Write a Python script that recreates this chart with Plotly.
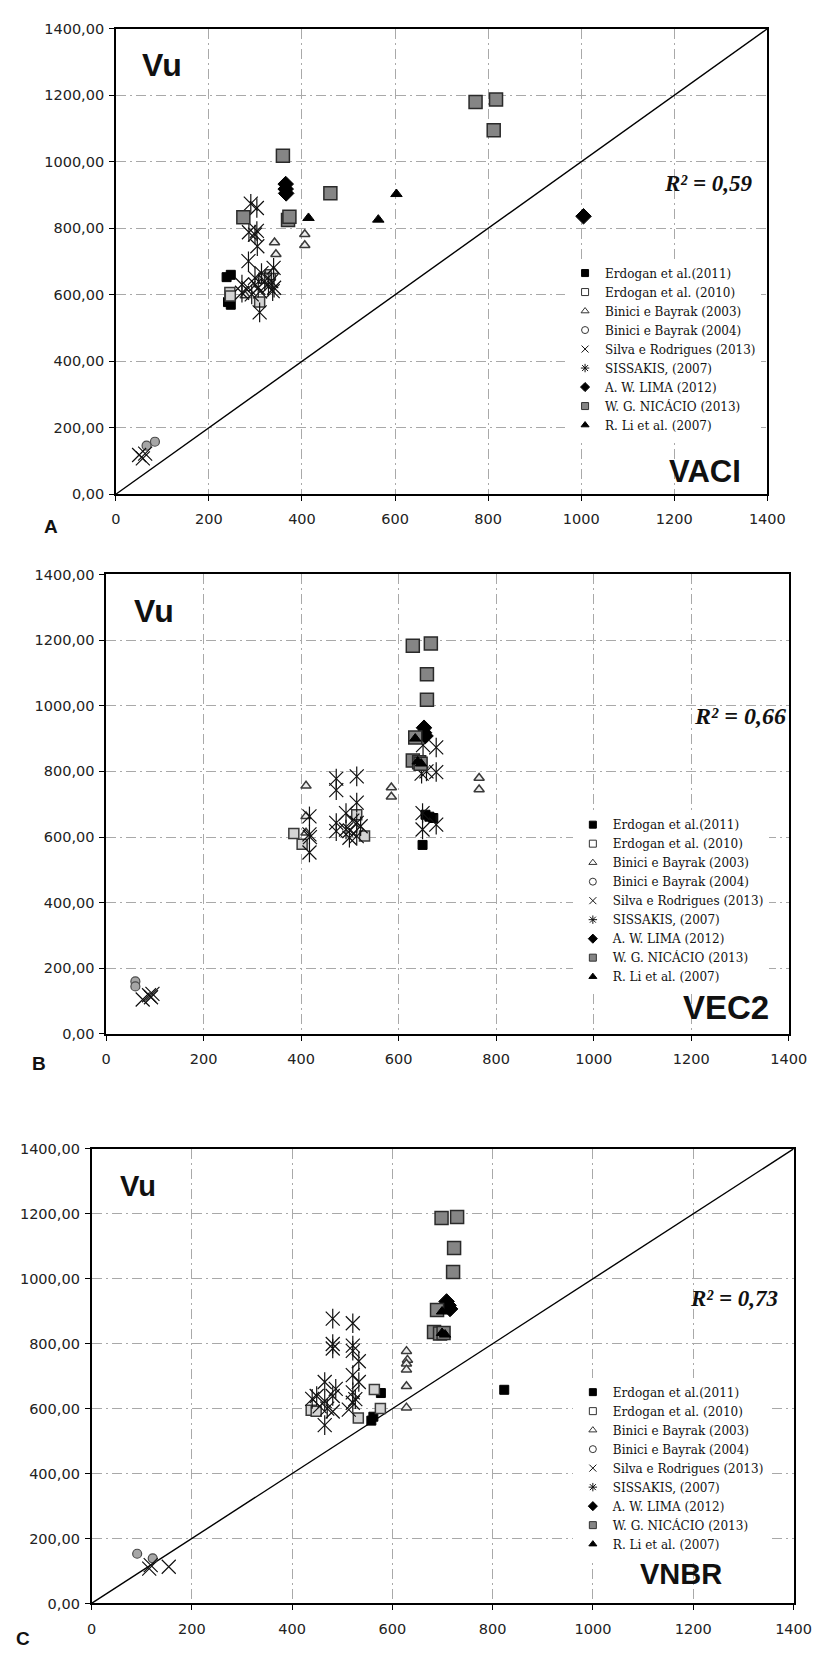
import plotly.graph_objects as go

W, H = 832, 1655

# ---------------- shared labels ----------------
series_names = [
    "Erdogan et al.(2011)", "Erdogan et al. (2010)", "Binici e Bayrak (2003)",
    "Binici e Bayrak (2004)", "Silva e Rodrigues (2013)", "SISSAKIS, (2007)",
    "A. W. LIMA (2012)", "W. G. NICÁCIO (2013)", "R. Li et al. (2007)",
]
axis_ticks = [0, 200, 400, 600, 800, 1000, 1200, 1400]
x_tick_labels = ["0", "200", "400", "600", "800", "1000", "1200", "1400"]
y_tick_labels = ["0,00", "200,00", "400,00", "600,00", "800,00", "1000,00", "1200,00", "1400,00"]
panel_codes = ["VACI", "VEC2", "VNBR"]
panel_letters = ["A", "B", "C"]
r2_values = ["0,59", "0,66", "0,73"]
diag_x = [0, 1400]
diag_y = [0, 1400]

# ---------------- Panel A : VACI ----------------
vaci_erd11_x = [238, 247, 241, 247]
vaci_erd11_y = [653, 660, 578, 570]
vaci_erd10_x = [245, 246, 309, 332, 318]
vaci_erd10_y = [607, 596, 578, 660, 650]
vaci_bin03_x = [341, 344, 406, 406, 339, 278]
vaci_bin03_y = [757, 722, 782, 749, 671, 598]
vaci_bin04_x = [84, 66]
vaci_bin04_y = [158, 146]
vaci_silva_x = [50, 58, 63, 300, 310, 285]
vaci_silva_y = [118, 108, 122, 630, 610, 620]
vaci_siss_x = [290, 303, 286, 299, 303, 304, 285, 271, 299, 306, 309, 320, 334, 339, 340, 337, 292, 271, 313, 328]
vaci_siss_y = [874, 861, 788, 781, 792, 746, 701, 631, 651, 621, 547, 641, 641, 681, 621, 611, 601, 606, 665, 625]
vaci_lima_x = [365, 365, 366, 1005]
vaci_lima_y = [933, 918, 905, 836]
vaci_nica_x = [359, 274, 461, 370, 373, 773, 817, 812]
vaci_nica_y = [1018, 833, 905, 825, 835, 1180, 1187, 1095]
vaci_rli_x = [414, 564, 603]
vaci_rli_y = [831, 826, 903]

# ---------------- Panel B : VEC2 ----------------
vec2_erd11_x = [655, 671, 649, 663]
vec2_erd11_y = [668, 658, 576, 662]
vec2_erd10_x = [385, 402, 514, 530]
vec2_erd10_y = [611, 578, 668, 603]
vec2_bin03_x = [410, 410, 410, 585, 585, 765, 765]
vec2_bin03_y = [756, 663, 613, 751, 723, 780, 745]
vec2_bin04_x = [60, 60]
vec2_bin04_y = [160, 145]
vec2_silva_x = [75, 88, 95, 92, 505, 418, 500]
vec2_silva_y = [105, 118, 122, 112, 650, 600, 620]
vec2_siss_x = [472, 472, 514, 514, 492, 472, 472, 492, 499, 514, 522, 417, 417, 417, 514, 677, 677, 647, 649, 649, 677, 650, 657]
vec2_siss_y = [778, 743, 785, 705, 673, 643, 618, 623, 598, 603, 633, 663, 608, 553, 643, 873, 798, 793, 673, 623, 638, 880, 800]
vec2_lima_x = [652, 652, 655]
vec2_lima_y = [933, 918, 908]
vec2_nica_x = [629, 666, 658, 658, 634, 629, 642, 645]
vec2_nica_y = [1183, 1190, 1096, 1018, 903, 833, 828, 823]
vec2_rli_x = [634, 639, 646]
vec2_rli_y = [900, 830, 824]

# ---------------- Panel C : VNBR ----------------
vnbr_erd11_x = [558, 562, 577, 823]
vnbr_erd11_y = [563, 575, 648, 658]
vnbr_erd10_x = [438, 448, 564, 576, 532]
vnbr_erd10_y = [595, 592, 659, 600, 571]
vnbr_bin03_x = [628, 630, 628, 628, 628, 628]
vnbr_bin03_y = [777, 750, 738, 720, 669, 603]
vnbr_bin04_x = [91, 122]
vnbr_bin04_y = [153, 139]
vnbr_silva_x = [115, 118, 154, 481, 455, 513]
vnbr_silva_y = [107, 118, 113, 591, 607, 597]
vnbr_siss_x = [481, 521, 481, 481, 521, 521, 533, 521, 465, 533, 487, 449, 465, 481, 521, 526, 521, 465, 440, 470]
vnbr_siss_y = [877, 863, 799, 785, 794, 778, 746, 703, 682, 682, 661, 639, 623, 639, 650, 629, 618, 549, 630, 600]
vnbr_lima_x = [708, 715, 712]
vnbr_lima_y = [930, 907, 918]
vnbr_nica_x = [698, 729, 723, 721, 689, 683, 695, 702]
vnbr_nica_y = [1187, 1190, 1095, 1021, 904, 836, 831, 833]
vnbr_rli_x = [699, 699, 705]
vnbr_rli_y = [899, 833, 828]

panels = [
    [(vaci_erd11_x, vaci_erd11_y), (vaci_erd10_x, vaci_erd10_y), (vaci_bin03_x, vaci_bin03_y),
     (vaci_bin04_x, vaci_bin04_y), (vaci_silva_x, vaci_silva_y), (vaci_siss_x, vaci_siss_y),
     (vaci_lima_x, vaci_lima_y), (vaci_nica_x, vaci_nica_y), (vaci_rli_x, vaci_rli_y)],
    [(vec2_erd11_x, vec2_erd11_y), (vec2_erd10_x, vec2_erd10_y), (vec2_bin03_x, vec2_bin03_y),
     (vec2_bin04_x, vec2_bin04_y), (vec2_silva_x, vec2_silva_y), (vec2_siss_x, vec2_siss_y),
     (vec2_lima_x, vec2_lima_y), (vec2_nica_x, vec2_nica_y), (vec2_rli_x, vec2_rli_y)],
    [(vnbr_erd11_x, vnbr_erd11_y), (vnbr_erd10_x, vnbr_erd10_y), (vnbr_bin03_x, vnbr_bin03_y),
     (vnbr_bin04_x, vnbr_bin04_y), (vnbr_silva_x, vnbr_silva_y), (vnbr_siss_x, vnbr_siss_y),
     (vnbr_lima_x, vnbr_lima_y), (vnbr_nica_x, vnbr_nica_y), (vnbr_rli_x, vnbr_rli_y)],
]
show_diag = [True, False, True]

# ---------------- styles ----------------
styles = [
    dict(symbol="square", size=9, color="#000000", line=dict(color="#000000", width=1)),
    dict(symbol="square", size=10, color="#d4d4d4", line=dict(color="#3a3a3a", width=1.5)),
    dict(symbol="triangle-up", size=9, color="#ececec", line=dict(color="#3a3a3a", width=1.5)),
    dict(symbol="circle", size=9, color="#a6a6a6", line=dict(color="#4a4a4a", width=1.2)),
    dict(symbol="x-thin-open", size=14, color="#111111", line=dict(color="#111111", width=1.2)),
    dict(symbol="x-thin-open", size=14, color="#111111", line=dict(color="#111111", width=1.2)),
    dict(symbol="diamond", size=12, color="#000000", line=dict(color="#000000", width=1)),
    dict(symbol="square", size=13, color="#858585", line=dict(color="#2a2a2a", width=1.5)),
    dict(symbol="triangle-up", size=10, color="#000000", line=dict(color="#000000", width=1)),
]
legend_marker = [
    dict(symbol="square", color="#000000", line="#000000"),
    dict(symbol="square", color="#ffffff", line="#333333"),
    dict(symbol="triangle-up", color="#ffffff", line="#333333"),
    dict(symbol="circle", color="#ffffff", line="#333333"),
    dict(symbol="x-thin-open", color="#111111", line="#111111"),
    dict(symbol="asterisk-open", color="#111111", line="#111111"),
    dict(symbol="diamond", color="#000000", line="#000000"),
    dict(symbol="square", color="#858585", line="#333333"),
    dict(symbol="triangle-up", color="#000000", line="#000000"),
]

# panel geometry in pixels: (x_left, x_right, y_top, y_bottom)
geom = [(114, 784, 21, 491), (104, 806, 572, 1036), (89, 811, 1152, 1611)]
legend_pos = [(576, 253, 12), (584, 810, 12), (584, 1383, 12)]
vu_pos = [(161, 58, 32), (153, 609, 32), (137, 1190, 29)]
code_pos = [(720, 468, 31), (741, 1009, 33), (695, 1581, 29)]
r2_pos = [(723, 177, 23), (756, 715, 24), (750, 1303, 23)]
letter_pos = [(47, 524), (35, 1066), (19, 1646)]


def px(x, y):
    return x / W, 1 - y / H


fig = go.Figure()
layout_updates = {}
annotations = []

for p in range(3):
    sfx = "" if p == 0 else str(p + 1)
    xa, ya = "x" + sfx, "y" + sfx
    leg = "legend" + sfx
    x0, x1, yt, yb = geom[p]
    grid_kw = dict(showgrid=True, gridcolor="#a9a9a9", gridwidth=1,
                   griddash="10px,4px,2px,4px", zeroline=False,
                   showline=True, linecolor="#000000", linewidth=1.5, mirror=True,
                   ticks="outside", ticklen=5, tickcolor="#000000",
                   range=[0, 1400], tickvals=axis_ticks,
                   tickfont=dict(family="DejaVu Sans", size=14.5, color="#222222"))
    layout_updates["xaxis" + sfx] = dict(domain=[x0 / W, x1 / W], anchor=ya,
                                         ticktext=x_tick_labels, ticklabelstandoff=6,
                                         **grid_kw)
    layout_updates["yaxis" + sfx] = dict(domain=[1 - yb / H, 1 - yt / H], anchor=xa,
                                         ticktext=y_tick_labels, ticklabelstandoff=2,
                                         **grid_kw)

    if show_diag[p]:
        fig.add_trace(go.Scatter(x=diag_x, y=diag_y, mode="lines", xaxis=xa, yaxis=ya,
                                 line=dict(color="#000000", width=1.4),
                                 showlegend=False, hoverinfo="skip"))

    # data marks
    for i, (xs, ys) in enumerate(panels[p]):
        st = styles[i]
        fig.add_trace(go.Scatter(
            x=xs, y=ys, mode="markers", xaxis=xa, yaxis=ya, name=series_names[i],
            showlegend=False,
            marker=dict(symbol=st["symbol"], size=st["size"], color=st["color"], line=st["line"])))
        if i == 5:  # SISSAKIS: six-armed star = X plus vertical stroke
            fig.add_trace(go.Scatter(
                x=xs, y=ys, mode="markers", xaxis=xa, yaxis=ya, showlegend=False,
                hoverinfo="skip",
                marker=dict(symbol="line-ns-open", size=st["size"], color=st["color"], line=st["line"])))

    # legend entries
    for i in range(9):
        lm = legend_marker[i]
        fig.add_trace(go.Scatter(
            x=[None], y=[None], mode="markers", xaxis=xa, yaxis=ya, name=series_names[i],
            legend=leg, showlegend=True,
            marker=dict(symbol=lm["symbol"], size=7, color=lm["color"],
                        line=dict(color=lm["line"], width=1))))

    lx, ly, lf = legend_pos[p]
    lpx, lpy = px(lx, ly)
    layout_updates[leg] = dict(x=lpx, y=lpy, xanchor="left", yanchor="top",
                               bgcolor="#ffffff", borderwidth=0, tracegroupgap=0,
                               itemwidth=30,
                               font=dict(family="DejaVu Serif", size=lf, color="#111111"))

    # texts
    vx, vy, vs = vu_pos[p]
    ax_, ay_ = px(vx, vy)
    annotations.append(dict(x=ax_, y=ay_, xref="paper", yref="paper", text="<b>Vu</b>",
                            showarrow=False, xanchor="center", yanchor="middle",
                            font=dict(family="Liberation Sans", size=vs, color="#111111")))
    cx, cy, cs = code_pos[p]
    ax_, ay_ = px(cx, cy)
    annotations.append(dict(x=ax_, y=ay_, xref="paper", yref="paper",
                            text="<b>" + panel_codes[p] + "</b>",
                            showarrow=False, xanchor="center", yanchor="middle",
                            font=dict(family="Liberation Sans", size=cs, color="#111111")))
    rx, ry, rs = r2_pos[p]
    ax_, ay_ = px(rx, ry)
    annotations.append(dict(x=ax_, y=ay_, xref="paper", yref="paper",
                            text="<b><i>R² = " + r2_values[p] + "</i></b>",
                            showarrow=False, xanchor="center", yanchor="middle",
                            font=dict(family="Liberation Serif", size=rs, color="#111111")))
    tx, ty = letter_pos[p]
    ax_, ay_ = px(tx, ty)
    annotations.append(dict(x=ax_, y=ay_, xref="paper", yref="paper",
                            text="<b>" + panel_letters[p] + "</b>",
                            showarrow=False, xanchor="center", yanchor="middle",
                            font=dict(family="Liberation Sans", size=19, color="#111111")))

fig.update_layout(
    width=W, height=H, margin=dict(l=0, r=0, t=0, b=0),
    paper_bgcolor="#ffffff", plot_bgcolor="#ffffff",
    annotations=annotations, **layout_updates,
)

fig.write_html("out.html", config={"displayModeBar": False},
               post_script="document.body.style.margin='0';")
